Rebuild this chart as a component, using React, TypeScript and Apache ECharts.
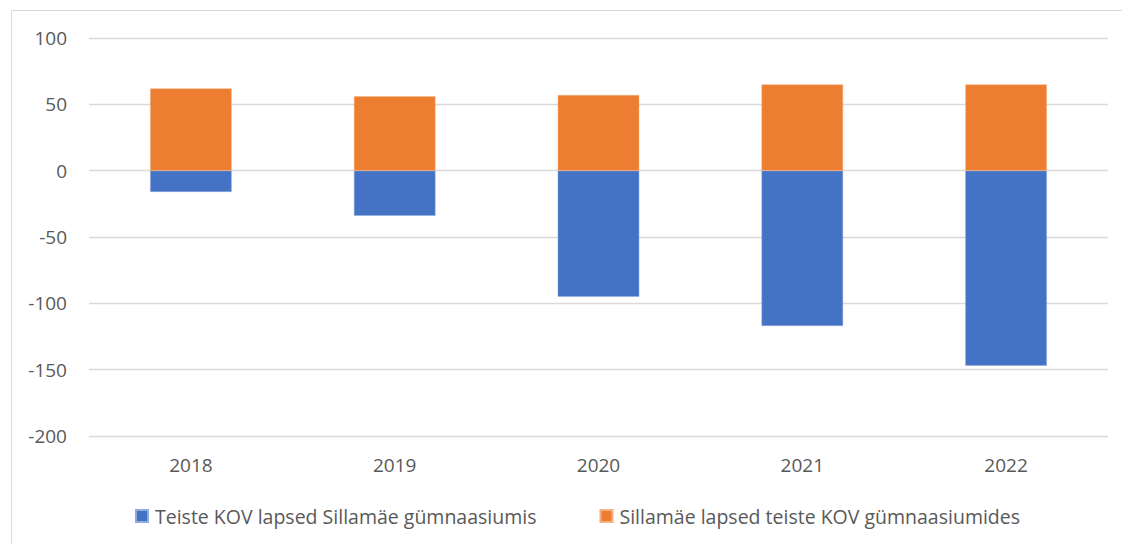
import React, { useEffect, useRef } from "react";
import * as echarts from "echarts";

const categories = ["2018", "2019", "2020", "2021", "2022"];
const teisteKov = [-16, -34, -95, -117, -147];
const sillamae = [62, 56, 57, 65, 65];
const seriesNames = [
  "Teiste KOV lapsed Sillamäe gümnaasiumis",
  "Sillamäe lapsed teiste KOV gümnaasiumides",
];

const FONT = "'Open Sans', 'Noto Sans', sans-serif";

export default function App() {
  const ref = useRef<HTMLDivElement>(null);
  useEffect(() => {
    if (!ref.current) return;
    const chart = echarts.init(ref.current, undefined, { renderer: "svg" });
    chart.setOption({
      animation: false,
      backgroundColor: "#ffffff",
      textStyle: { fontFamily: FONT },
      graphic: [
        {
          type: "rect",
          shape: { x: 11.5, y: 10.5, width: 1130, height: 560 },
          style: { fill: "none", stroke: "#d9d9d9", lineWidth: 1 },
          silent: true,
        },
      ],
      grid: { left: 89, right: 14, top: 38, bottom: 108, containLabel: false },
      legend: {
        top: 501,
        left: 130,
        padding: 5,
        itemWidth: 12,
        itemHeight: 12,
        itemGap: 63,
        icon: "rect",
        textStyle: { fontSize: 19.5, color: "#595959", fontFamily: FONT, padding: [0, 0, 0, 2] },
        data: seriesNames,
      },
      xAxis: {
        type: "category",
        data: categories,
        axisLine: { show: false },
        axisTick: { show: false },
        axisLabel: { fontSize: 19, color: "#595959", margin: 19, fontFamily: FONT },
      },
      yAxis: {
        type: "value",
        min: -200,
        max: 100,
        interval: 50,
        axisLine: { show: false },
        axisTick: { show: false },
        axisLabel: { fontSize: 19, color: "#595959", margin: 22, fontFamily: FONT },
        splitLine: { lineStyle: { color: "#d9d9d9", width: 1.3 } },
      },
      series: [
        {
          name: seriesNames[0],
          type: "bar",
          stack: "total",
          data: teisteKov,
          barWidth: "40%",
          itemStyle: { color: "#4472c4", borderColor: "#8faadc", borderWidth: 0.5 },
        },
        {
          name: seriesNames[1],
          type: "bar",
          stack: "total",
          data: sillamae,
          barWidth: "40%",
          itemStyle: { color: "#ed7d31", borderColor: "#f4b183", borderWidth: 0.5 },
        },
      ],
    });
    return () => chart.dispose();
  }, []);
  return (
    <div
      ref={ref}
      style={{ position: "fixed", left: 0, top: 0, width: 1122, height: 544 }}
    />
  );
}
